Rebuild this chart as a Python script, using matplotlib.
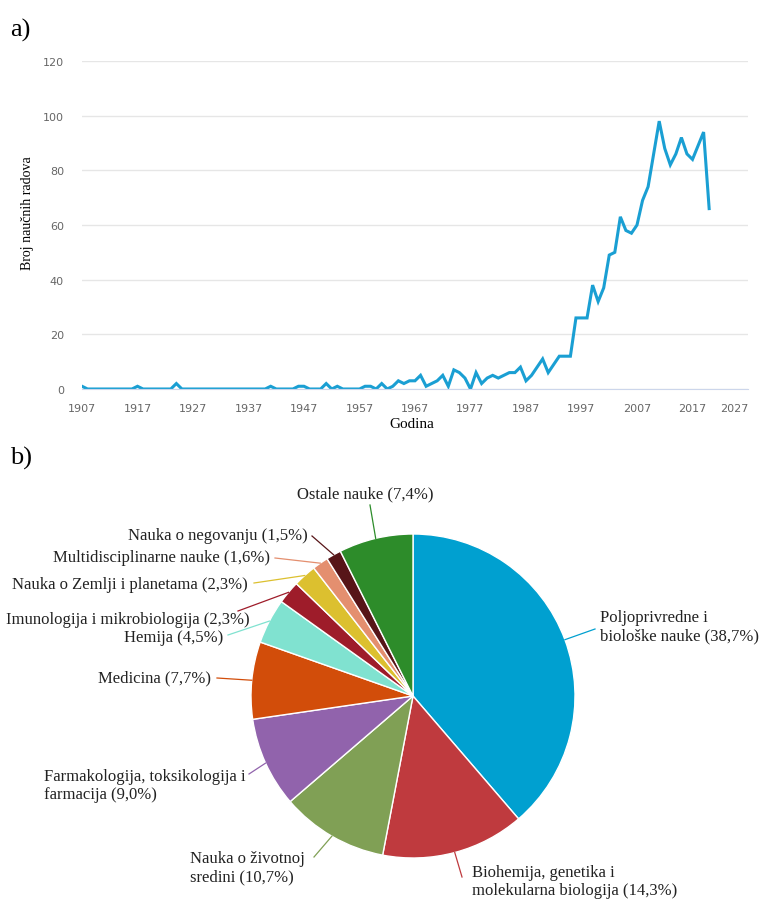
import math
import matplotlib.pyplot as plt

# a) broj naucnih radova po godini
years = list(range(1907, 2021))
counts = [
    1, 0, 0, 0, 0, 0, 0, 0, 0, 0,        # 1907-1916
    1, 0, 0, 0, 0, 0, 0, 2, 0, 0,        # 1917-1926
    0, 0, 0, 0, 0, 0, 0, 0, 0, 0,        # 1927-1936
    0, 0, 0, 0, 1, 0, 0, 0, 0, 1,        # 1937-1946
    1, 0, 0, 0, 2, 0, 1, 0, 0, 0,        # 1947-1956
    0, 1, 1, 0, 2, 0, 1, 3, 2, 3,        # 1957-1966
    3, 5, 1, 2, 3, 5, 1, 7, 6, 4,        # 1967-1976
    0, 6, 2, 4, 5, 4, 5, 6, 6, 8,        # 1977-1986
    3, 5, 8, 11, 6, 9, 12, 12, 12, 26,   # 1987-1996
    26, 26, 38, 32, 37, 49, 50, 63, 58, 57,  # 1997-2006
    60, 69, 74, 86, 98, 88, 82, 86, 92, 86,  # 2007-2016
    84, 89, 94, 66,                      # 2017-2020
]
xticks = list(range(1907, 2028, 10))
yticks = list(range(0, 121, 20))

# b) oblasti
fields = [
    "Poljoprivredne i\nbiološke nauke (38,7%)",
    "Biohemija, genetika i\nmolekularna biologija (14,3%)",
    "Nauka o životnoj\nsredini (10,7%)",
    "Farmakologija, toksikologija i\nfarmacija (9,0%)",
    "Medicina (7,7%)",
    "Hemija (4,5%)",
    "Imunologija i mikrobiologija (2,3%)",
    "Nauka o Zemlji i planetama (2,3%)",
    "Multidisciplinarne nauke (1,6%)",
    "Nauka o negovanju (1,5%)",
    "Ostale nauke (7,4%)",
]
shares = [38.7, 14.3, 10.7, 9.0, 7.7, 4.5, 2.3, 2.3, 1.6, 1.5, 7.4]
colors = ["#00a0d0", "#bf3a3e", "#80a055", "#9163ac", "#d24d0a", "#80e2d0",
          "#9e1c2a", "#dcc02f", "#e48f6f", "#571518", "#2d8c2a"]

# label layout in figure pixels: text x, text y, alignment, connector start x, y
label_layout = [
    (600, 627, "left", 595, 630),
    (472, 882, "left", 462, 878),
    (305, 868, "right", 314, 858),
    (246, 786, "right", 249, 775),
    (211, 678, "right", 217, 679),
    (223, 638, "right", 228, 636),
    (250, 620, "right", 238, 612),
    (248, 585, "right", 254, 584),
    (270, 558, "right", 275, 559),
    (308, 536, "right", 312, 537),
    (365, 494, "center", 370, 506),
]

W, H = 759, 903
serif = "Liberation Serif"

fig = plt.figure(figsize=(W / 100, H / 100), dpi=100)

# ---- a) line chart ----
ax = fig.add_axes([82 / W, 1 - 390 / H, 666 / W, 328 / H])
ax.plot(years, counts, color="#1a9fd3", lw=2.2, solid_joinstyle="miter")
ax.set_xlim(1907, 2027)
ax.set_ylim(0, 120)
ax.set_xticks(xticks)
ax.set_yticks(yticks)
ax.grid(axis="y", color="#e6e6e6", lw=1)
ax.set_axisbelow(True)
for s in ["top", "right", "left"]:
    ax.spines[s].set_visible(False)
ax.spines["bottom"].set_color("#ccd6eb")
ax.tick_params(length=0, colors="#666666", labelsize=8)
ax.tick_params(axis="x", pad=10)
ax.tick_params(axis="y", pad=13)
ax.get_xticklabels()[-1].set_ha("right")

fig.text(28 / W, 1 - 213 / H, "Broj naučnih radova", rotation=90,
         ha="center", va="center", family=serif, fontsize=10)
fig.text(412 / W, 1 - 424 / H, "Godina", ha="center", va="center",
         family=serif, fontsize=11)
fig.text(10 / W, 1 - 30 / H, "a)", ha="left", va="center", family=serif, fontsize=19)
fig.text(10 / W, 1 - 458 / H, "b)", ha="left", va="center", family=serif, fontsize=19)

# ---- b) pie chart ----
cx, cy, r = 413, 697, 162
ax2 = fig.add_axes([(cx - r) / W, 1 - (cy + r) / H, 2 * r / W, 2 * r / H])
wedges, _ = ax2.pie(shares, colors=colors, startangle=90, counterclock=False,
                    radius=1, wedgeprops=dict(edgecolor="white", linewidth=1))
ax2.set_xlim(-1, 1)
ax2.set_ylim(-1, 1)
ax2.axis("off")


def to_data(px, py):
    return (px - cx) / r, (cy - py) / r


for w, label, col, (tx, ty, ha, sx, sy) in zip(wedges, fields, colors, label_layout):
    mid = math.radians((w.theta1 + w.theta2) / 2)
    ex, ey = math.cos(mid), math.sin(mid)
    x0, y0 = to_data(sx, sy)
    ax2.plot([x0, ex], [y0, ey], color=col, lw=0.9, clip_on=False)
    x, y = to_data(tx, ty)
    ax2.text(x, y, label, ha=ha, va="center", multialignment="left",
             family=serif, fontsize=12, color="#222222", linespacing=1.15)

fig.savefig("out.png", dpi=100)
